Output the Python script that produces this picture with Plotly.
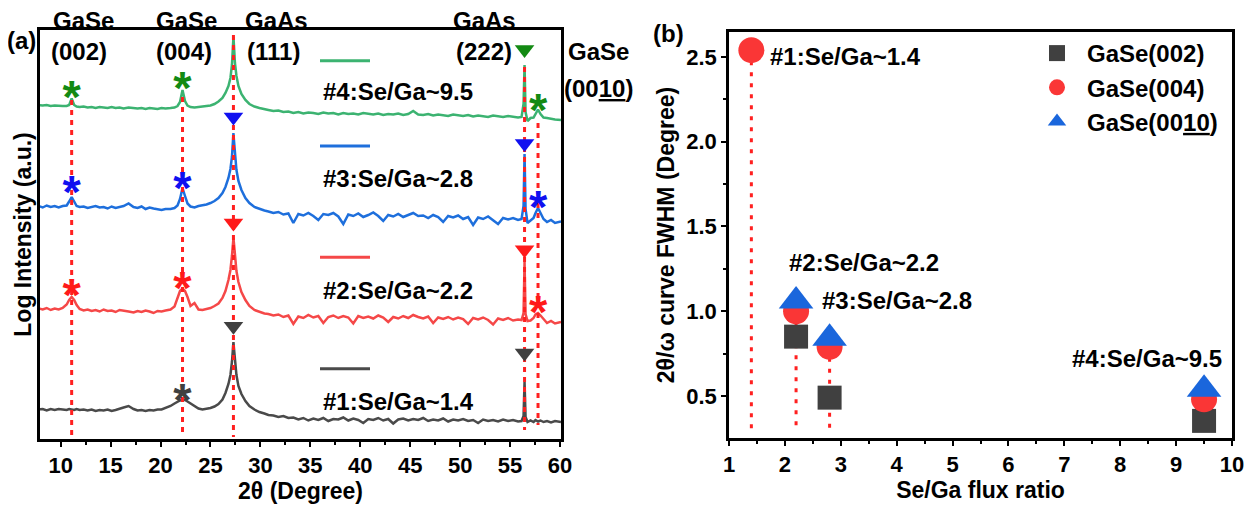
import plotly.graph_objects as go

# The page body adds an 8px margin around the figure, so the figure is drawn
# slightly smaller and all reference pixel positions are shifted by that offset.
SCREEN_W, SCREEN_H = 1255, 508
OX, OY = 8, 8
W, H = SCREEN_W - OX, SCREEN_H - OY
FONT = "Liberation Sans, Arial, sans-serif"

# ---------------- Panel (a) data: XRD 2theta scans (log intensity, offset, a.u.) ----------------
two_theta = (
    [7.8, 8.2, 8.6, 9.0, 9.4, 9.8, 10.2]
    + [10.6, 10.85, 11.1, 11.35, 11.6]
    + [11.9, 12.3, 12.7, 13.1, 13.5, 13.9, 14.3, 14.7, 15.1, 15.5, 15.9, 16.3, 16.8, 17.3, 17.7,
       18.1, 18.5, 18.9, 19.3, 19.7, 20.1, 20.5]
    + [21.0, 21.4, 21.7, 21.95, 22.2, 22.45, 22.7, 23.0, 23.4, 23.8]
    + [24.2, 24.6, 25.0, 25.4, 25.8, 26.2, 26.5, 26.8, 27.0, 27.15, 27.25, 27.3, 27.35, 27.45,
       27.6, 27.8, 28.1, 28.5, 28.9, 29.4, 29.9, 30.4]
    + [30.8, 31.3, 31.8, 32.3, 32.8, 33.3, 33.8, 34.3, 34.8, 35.3, 35.8, 36.3, 36.8, 37.3, 37.8,
       38.3, 38.8, 39.3, 39.8, 40.3, 40.8, 41.3, 41.8, 42.3, 42.8, 43.3, 43.8, 44.3, 44.8, 45.3,
       45.8, 46.3, 46.8, 47.3, 47.8, 48.3, 48.8, 49.3, 49.8, 50.3, 50.8, 51.3, 51.8, 52.3, 52.8,
       53.3, 53.8, 54.3, 54.8, 55.3, 55.8]
    + [56.15, 56.35, 56.45, 56.55, 56.75]
    + [57.05, 57.35, 57.55, 57.8, 58.05, 58.35]
    + [58.7, 59.1, 59.5, 60.1]
)

int_s4 = (
    [33.4, 33.35, 33.4, 33.3, 33.35, 33.3, 33.3]
    + [33.3, 33.4, 34.05, 33.4, 33.25]
    + [33.2, 33.25, 33.15, 33.2, 33.1, 33.2, 33.15, 33.1, 33.2, 33.1, 33.15, 33.05, 33.15, 33.1,
       33.05, 33.1, 33.0, 33.1, 33.05, 33.0, 33.1, 33.05]
    + [33.1, 33.15, 33.3, 33.7, 34.9, 33.8, 33.35, 33.2, 33.15, 33.2]
    + [33.2, 33.25, 33.35, 33.5, 33.75, 34.1, 34.6, 35.3, 36.1, 37.4, 39.2, 40.2, 39.4, 37.6,
       36.3, 35.3, 34.5, 33.9, 33.5, 33.25, 33.1, 32.95]
    + [32.9, 32.8, 32.85, 32.7, 32.75, 32.6, 32.7, 32.55, 32.65, 32.6, 32.5, 32.65, 32.55, 32.6,
       32.45, 32.6, 32.5, 32.55, 32.45, 32.6, 32.5, 32.45, 32.55, 32.4, 32.5, 32.45, 32.55, 32.4,
       32.5, 32.8, 32.45, 32.4, 32.5, 32.35, 32.45, 32.4, 32.3, 32.45, 32.35, 32.3, 32.4, 32.25,
       32.35, 32.3, 32.2, 32.35, 32.25, 32.2, 32.3, 32.2, 32.15]
    + [32.2, 33.5, 37.4, 32.7, 31.8]
    + [32.1, 32.15, 32.45, 32.95, 32.5, 32.15]
    + [32.1, 32.0, 31.95, 31.9]
)

int_s3 = (
    [23.3, 23.15, 23.35, 23.2, 23.3, 23.15, 23.3]
    + [23.35, 23.75, 24.2, 23.75, 23.3]
    + [23.2, 23.25, 23.1, 23.2, 23.3, 23.15, 23.2, 23.05, 23.25, 23.1, 23.2, 23.3, 23.55, 23.2,
       23.1, 23.25, 23.0, 23.15, 23.05, 22.95, 22.9, 23.0]
    + [23.0, 23.1, 23.35, 24.0, 25.1, 24.3, 23.55, 23.25, 23.15, 23.3]
    + [23.35, 23.45, 23.6, 23.8, 24.1, 24.6, 25.2, 26.1, 27.0, 28.2, 29.8, 30.6, 29.9, 28.3,
       26.9, 25.8, 24.9, 24.1, 23.6, 23.2, 23.0, 22.85]
    + [22.75, 22.6, 22.7, 22.45, 22.55, 21.6, 22.5, 22.35, 22.6, 22.3, 21.9, 22.5, 22.4, 22.6,
       22.25, 21.5, 22.45, 22.3, 22.55, 22.2, 22.4, 22.65, 22.3, 21.8, 22.4, 22.25, 22.5, 22.2,
       22.4, 22.6, 22.3, 22.35, 22.1, 22.4, 22.2, 21.7, 22.3, 22.15, 22.35, 22.0, 22.2, 21.4,
       22.15, 22.0, 22.25, 21.9, 21.5, 22.1, 21.95, 22.1, 21.9]
    + [22.0, 23.3, 28.5, 23.0, 21.6]
    + [21.9, 22.1, 22.6, 23.1, 22.6, 22.0]
    + [21.7, 21.9, 21.6, 21.75]
)

int_s2 = (
    [13.05, 12.95, 13.1, 12.9, 13.05, 12.95, 13.1]
    + [13.45, 13.9, 14.2, 13.9, 13.4]
    + [13.0, 12.85, 12.95, 12.8, 12.9, 12.75, 12.95, 12.8, 12.85, 12.7, 12.9, 12.8, 12.75, 12.65,
       12.8, 12.7, 12.85, 12.75, 12.6, 12.8, 12.75, 12.85]
    + [12.95, 13.25, 14.0, 14.8, 15.05, 14.8, 14.2, 13.3, 13.6, 12.95]
    + [12.9, 13.0, 13.1, 13.3, 13.55, 14.1, 14.8, 15.9, 16.9, 18.3, 19.5, 20.1, 19.6, 18.2,
       16.8, 15.7, 14.7, 13.9, 13.3, 12.9, 12.7, 12.55]
    + [12.5, 12.35, 12.45, 12.2, 12.35, 11.5, 12.25, 12.1, 12.4, 12.15, 12.3, 11.6, 12.2, 12.35,
       12.1, 12.3, 12.15, 11.55, 12.3, 12.1, 12.25, 12.05, 12.35, 12.15, 11.7, 12.2, 12.05, 12.3,
       12.1, 12.4, 12.2, 12.05, 12.25, 11.6, 12.15, 12.0, 12.2, 11.95, 12.15, 12.0, 11.5, 12.1,
       11.95, 12.15, 11.9, 11.45, 12.05, 11.9, 12.1, 11.85, 11.95]
    + [11.9, 12.6, 17.7, 12.5, 11.8]
    + [11.85, 12.1, 12.45, 12.6, 12.35, 11.95]
    + [11.6, 11.8, 11.55, 11.7]
)

int_s1 = (
    [2.95, 3.0, 2.85, 3.0, 2.9, 3.0, 2.95]
    + [2.9, 3.0, 2.95, 2.9, 3.0]
    + [2.9, 2.95, 2.85, 2.95, 2.8, 2.9, 2.85, 2.95, 2.8, 2.9, 3.05, 3.15, 3.3, 3.0, 2.85, 2.9,
       2.8, 2.9, 2.85, 2.95, 2.95, 3.1]
    + [3.3, 3.55, 3.75, 3.85, 3.9, 3.9, 3.75, 3.55, 3.3, 3.05]
    + [2.95, 3.0, 3.1, 3.25, 3.5, 3.95, 4.6, 5.5, 6.4, 7.7, 9.0, 9.7, 9.1, 7.8, 6.4, 5.3, 4.5,
       3.8, 3.3, 2.95, 2.7, 2.55]
    + [2.4, 2.35, 2.2, 2.3, 2.1, 2.15, 1.95, 2.1, 1.85, 2.05, 1.9, 2.1, 1.8, 2.0, 1.95, 2.15,
       1.85, 2.05, 1.9, 1.6, 2.0, 1.9, 2.1, 1.85, 2.0, 1.55, 1.95, 2.05, 1.85, 2.0, 1.9, 2.1,
       1.8, 1.95, 1.85, 2.05, 1.75, 1.95, 1.85, 2.0, 1.8, 1.9, 1.6, 1.95, 1.8, 1.9, 1.75, 1.95,
       1.8, 1.9, 1.75]
    + [1.8, 2.3, 5.7, 2.2, 1.7]
    + [1.85, 1.7, 1.9, 1.75, 1.85, 1.7]
    + [1.8, 1.65, 1.8, 1.7]
)

for arr in (int_s4, int_s3, int_s2, int_s1):
    assert len(arr) == len(two_theta), (len(arr), len(two_theta))

sample_names = ["#1:Se/Ga~1.4", "#2:Se/Ga~2.2", "#3:Se/Ga~2.8", "#4:Se/Ga~9.5"]

# reference peak positions (2theta) and dotted guide extents
guide_pos = [11.1, 22.2, 27.3, 56.45, 57.8]
guide_top = [33.9, 34.2, 40.4, 37.2, 31.6]
guide_bottom = [0.2, 0.2, 0.2, 0.9, 1.4]

# GaSe peak labels (*) and GaAs substrate peak labels (down triangles)
star_pos = [[22.2], [11.1, 22.2, 57.8], [11.1, 22.2, 57.8], [11.1, 22.2, 57.8]]
star_y = [[4.9], [15.4, 16.07, 13.73], [25.73, 26.07, 24.23], [35.17, 36.07, 33.9]]
tri_pos = [27.3, 56.45]
tri_y = [[11.27, 8.6], [21.6, 18.93], [32.2, 29.55], [41.6, 38.95]]

# ---------------- Panel (b) data: FWHM vs Se/Ga flux ratio ----------------
flux_ratio = [1.4, 2.2, 2.8, 9.5]
fwhm_002 = [None, 0.85, 0.49, 0.353]
fwhm_004 = [2.54, 1.0, 0.79, 0.48]
fwhm_0010 = [None, 1.06, 0.84, 0.54]

# ---------------- styling ----------------
curve_colors = ["#4a4a4a", "#f54848", "#1e6fdc", "#3cb371"]
mark_colors = ["#404040", "#ff1a1a", "#1010f0", "#138a13"]
RED_DOT = "#ff2020"

YA_RANGE = [0, 40.9]
AU_PER_PX = (YA_RANGE[1] - YA_RANGE[0]) / 409.0
STAR_FS = 47


def fx(x):
    """screen x pixel -> paper fraction"""
    return (x - OX) / W


def fy(y):
    """screen y pixel -> paper fraction"""
    return 1 - (y - OY) / H


def bold(size, color="black"):
    return dict(family=FONT, size=size, color=color, weight="bold")


fig = go.Figure()

# curves
for i, ys in enumerate([int_s1, int_s2, int_s3, int_s4]):
    fig.add_trace(go.Scatter(
        x=two_theta, y=ys, mode="lines", xaxis="x", yaxis="y",
        line=dict(color=curve_colors[i], width=2.5), showlegend=False,
        name=sample_names[i]))

# dotted guide lines
gx, gy = [], []
for p, t, b in zip(guide_pos, guide_top, guide_bottom):
    gx += [p, p, None]
    gy += [t, b, None]
fig.add_trace(go.Scatter(
    x=gx, y=gy, mode="lines", xaxis="x", yaxis="y", showlegend=False,
    line=dict(color=RED_DOT, width=3, dash="5px,5px"), hoverinfo="skip"))

# peak labels
star_shift = 0.3 * STAR_FS * AU_PER_PX
for i in range(4):
    fig.add_trace(go.Scatter(
        x=star_pos[i], y=[v - star_shift for v in star_y[i]], mode="text", text=["*"] * len(star_pos[i]),
        textposition="middle center", textfont=bold(STAR_FS, mark_colors[i]),
        xaxis="x", yaxis="y", showlegend=False, cliponaxis=False, hoverinfo="skip"))
    fig.add_trace(go.Scatter(
        x=tri_pos, y=tri_y[i], mode="markers", xaxis="x", yaxis="y", showlegend=False,
        marker=dict(symbol="triangle-down", size=17, color=mark_colors[i], line=dict(width=0)),
        cliponaxis=False, hoverinfo="skip"))

# ---- panel (b) ----
dx, dy = [], []
for r, v in zip(flux_ratio, fwhm_004):
    dx += [r, r, None]
    dy += [v, 0.29, None]
fig.add_trace(go.Scatter(
    x=dx, y=dy, mode="lines", xaxis="x2", yaxis="y2", showlegend=False,
    line=dict(color=RED_DOT, width=3, dash="4px,7px"), hoverinfo="skip"))

fig.add_trace(go.Scatter(
    x=flux_ratio, y=fwhm_002, mode="markers", xaxis="x2", yaxis="y2", name="GaSe(002)",
    marker=dict(symbol="square", size=24, color="#404040", line=dict(width=0)), cliponaxis=False))
fig.add_trace(go.Scatter(
    x=flux_ratio, y=fwhm_004, mode="markers", xaxis="x2", yaxis="y2", name="GaSe(004)",
    marker=dict(symbol="circle", size=26, color="#fa3636", line=dict(width=0)), cliponaxis=False))
fig.add_trace(go.Scatter(
    x=flux_ratio, y=fwhm_0010, mode="markers", xaxis="x2", yaxis="y2", name="GaSe(00<u>10</u>)",
    marker=dict(symbol="triangle-up", size=30, color="#1a66dc", line=dict(width=0)), cliponaxis=False))

axis_common = dict(
    showline=True, linewidth=2.5, linecolor="black", mirror=True, showgrid=False, zeroline=False,
    ticks="outside", ticklen=5, tickwidth=2, tickcolor="black", tickfont=bold(22),
    automargin=False,
)

annotations = []


def ann(text, x, y, size=24, xanchor="center", yanchor="middle"):
    annotations.append(dict(
        text=text, x=fx(x), y=fy(y), xref="paper", yref="paper", showarrow=False,
        xanchor=xanchor, yanchor=yanchor, font=bold(size)))


# panel labels
ann("(a)", 21, 40)
ann("(b)", 668, 33)
# peak names (a)
ann("GaSe", 83, 20); ann("(002)", 78.5, 52)
ann("GaSe", 186, 20); ann("(004)", 183.5, 52)
ann("GaAs", 276, 20); ann("(111)", 273.5, 52)
ann("GaAs", 484, 20); ann("(222)", 483.5, 52)
ann("GaSe", 598, 52); ann("(00<u>10</u>)", 598, 88)
# custom legend (a)
leg_line_y = [368.7, 257.3, 146, 60.7]
leg_text_y = [401.7, 290, 178.3, 91.7]
shapes = []
for i in range(4):
    shapes.append(dict(type="line", xref="paper", yref="paper", x0=fx(320), x1=fx(370),
                       y0=fy(leg_line_y[i]), y1=fy(leg_line_y[i]),
                       line=dict(color=curve_colors[i], width=3)))
    ann(sample_names[i], 321, leg_text_y[i], xanchor="left")
# sample labels (b)
ann(sample_names[0], 768, 57, xanchor="left")
ann(sample_names[1], 787, 262, xanchor="left")
ann(sample_names[2], 820, 300, xanchor="left")
ann(sample_names[3], 1070, 358, xanchor="left")

fig.update_layout(
    width=W, height=H, autosize=False,
    margin=dict(l=0, r=0, t=0, b=0),
    paper_bgcolor="white", plot_bgcolor="white",
    font=dict(family=FONT, color="black"),
    xaxis=dict(axis_common, domain=[fx(40), fx(561)], range=[7.93, 60.1], anchor="y",
               tick0=0, dtick=5,
               minor=dict(dtick=2.5, ticklen=3, tickwidth=2, ticks="outside", tickcolor="black"),
               title=dict(text="2θ (Degree)", font=bold(23), standoff=2)),
    yaxis=dict(axis_common, domain=[fy(439), fy(30)], range=YA_RANGE, anchor="x",
               ticks="", showticklabels=False,
               title=dict(text="Log Intensity (a.u.)", font=bold(23), standoff=0)),
    xaxis2=dict(axis_common, domain=[fx(729), fx(1232)], range=[1, 10], anchor="y2",
                tick0=0, dtick=1,
                minor=dict(dtick=0.5, ticklen=3, tickwidth=2, ticks="outside", tickcolor="black"),
                title=dict(text="Se/Ga flux ratio", font=bold(23), standoff=2)),
    yaxis2=dict(axis_common, domain=[fy(438), fy(32)], range=[0.252, 2.647], anchor="x2",
                tick0=0, dtick=0.5, tickformat=".1f",
                minor=dict(dtick=0.25, ticklen=3, tickwidth=2, ticks="outside", tickcolor="black"),
                title=dict(text="2θ/ω curve FWHM (Degree)", font=bold(23), standoff=6)),
    legend=dict(x=fx(1027), y=fy(31), xanchor="left", yanchor="top", font=bold(24),
                itemwidth=50, bgcolor="rgba(0,0,0,0)", borderwidth=0, tracegroupgap=0),
    annotations=annotations,
    shapes=shapes,
)

fig.write_html("out.html")
